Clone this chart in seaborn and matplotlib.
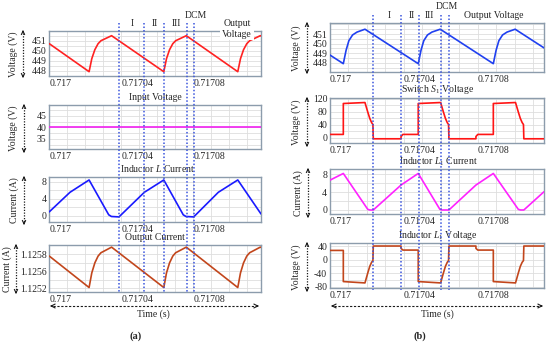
import numpy as np
import pandas as pd
import matplotlib
matplotlib.use("Agg")
import matplotlib.pyplot as plt
import seaborn as sns
from matplotlib.lines import Line2D
from matplotlib.patches import FancyArrowPatch
from matplotlib.ticker import MultipleLocator
import matplotlib.transforms as mtransforms

# ---------------- data (time in microseconds after 0.717 s) ----------------
T0 = 0.717
x_ticks = [0.717, 0.71704, 0.71708]
x_labels = ["0.717", "0.71704", "0.71708"]

# (a) boost converter
ta_vout = [0, 22.1, 23.6, 25.3, 27.1, 28.7, 34.6, 63.6, 65.1, 66.8, 68.6, 70.2, 76.1,
           104.7, 106.2, 107.9, 109.7, 111.3, 117.2, 117.6]
va_vout = [450.7, 447.9, 449.2, 450.1, 450.7, 451.0, 451.5, 447.9, 449.2, 450.1, 450.7, 451.0, 451.5,
           447.9, 449.2, 450.1, 450.7, 451.0, 451.5, 451.48]
ta_vin = [0, 117.6]
va_vin = [40, 40]
ta_il = [0, 11.5, 22.1, 33.0, 34.5, 38.7, 52.8, 63.6, 74.4, 75.9, 80.2, 93.9, 104.7, 117.6]
va_il = [0.9, 5.5, 8.4, 0.2, -0.2, -0.3, 5.5, 8.4, 0.2, -0.2, -0.3, 5.5, 8.4, 0.4]
ta_iout = [0, 22.1, 23.6, 25.3, 27.1, 28.7, 34.6, 63.6, 65.1, 66.8, 68.6, 70.2, 76.1,
           104.7, 106.2, 107.9, 109.7, 111.3, 117.2, 117.6]
va_iout = [1.125776, 1.12541, 1.12558, 1.125697, 1.125776, 1.125815, 1.12588,
           1.12541, 1.12558, 1.125697, 1.125776, 1.125815, 1.12588,
           1.12541, 1.12558, 1.125697, 1.125776, 1.125815, 1.12588, 1.125877]
a_iout_ticks = [1.1254, 1.1256, 1.1258]
a_iout_labels = ["1.1252", "1.1256", "1.1258"]
a_marks = [38.7, 52.8, 63.6, 76.3, 80.2]

# (b) proposed converter
tb_vout = [0, 7.2, 8.7, 10.2, 12.2, 14.6, 18.9, 47.7, 49.2, 50.7, 52.7, 55.1, 59.6,
           88.3, 89.8, 91.3, 93.3, 95.7, 100.1, 115.7]
vb_vout = [448.8, 447.9, 449.3, 450.3, 450.9, 451.2, 451.5, 447.9, 449.3, 450.3, 450.9, 451.2, 451.5,
           447.9, 449.3, 450.3, 450.9, 451.2, 451.5, 449.55]
tb_vs = [0, 7.2, 7.2, 18.9, 20.4, 21.5, 22.5, 23.2, 23.4, 38.4, 38.4, 39.4,
         47.7, 47.7, 59.8, 61.3, 62.4, 63.4, 64.1, 64.3, 78.9, 78.9, 79.9,
         88.3, 88.3, 100.3, 101.8, 102.9, 103.9, 104.6, 104.8, 115.7]
vb_vs = [10.5, 10.5, 106, 109, 80, 60, 47, 41, -3, -3, 4, 10.5,
         10.5, 106, 109, 80, 60, 47, 41, -3, -3, 4, 10.5,
         10.5, 106, 109, 80, 60, 47, 41, -3, -3]
tb_il1 = [0, 7.2, 20.4, 21.6, 23.4, 38.4, 47.7, 59.4, 60.6, 64.3, 78.9, 88.3, 101.8, 103.0, 104.8, 115.7]
vb_il1 = [6.7, 8.2, 0.15, 0.0, 0.0, 5.6, 8.2, 0.15, 0.0, 0.0, 5.6, 8.2, 0.15, 0.0, 0.0, 4.1]
tb_vl1 = [0, 7.2, 7.2, 18.9, 20.4, 21.5, 22.5, 23.2, 23.4, 38.4, 38.4, 39.4,
          47.7, 47.7, 59.8, 61.3, 62.4, 63.4, 64.1, 64.3, 78.9, 78.9, 79.9,
          88.3, 88.3, 100.3, 101.8, 102.9, 103.9, 104.6, 104.8, 115.7]
vb_vl1 = [27, 27, -65, -69, -40, -20, -8, -3, 40, 40, 33, 28,
          28, -65, -69, -40, -20, -8, -3, 40, 40, 33, 28,
          28, -65, -69, -40, -20, -8, -3, 40, 40]
b_marks = [23.2, 38.4, 48.1, 60.0, 64.3]

# ---------------- style ----------------
sns.set_theme(style="white")
plt.rcParams["font.family"] = ["Liberation Serif", "DejaVu Serif"]
plt.rcParams["mathtext.fontset"] = "custom"
plt.rcParams["mathtext.rm"] = "Liberation Serif"
plt.rcParams["mathtext.it"] = "Liberation Serif:italic"
FS = 7
SPINE = "#8c9cac"
GRID = "#dedede"
MARK = "#3a55dd"

W, H = 550, 343
fig = plt.figure(figsize=(5.5, 3.43), dpi=100)
fig.patch.set_facecolor("white")


def fx(p):
    return p / W


def fy(p):
    return 1 - p / H


def us(t):
    return [T0 + v * 1e-6 for v in t]


def make_ax(x0, y0, x1, y1, t, v, color, ylim, yticks, ylabels, yminor, xmax):
    ax = fig.add_axes([fx(x0), fy(y1), (x1 - x0) / W, (y1 - y0) / H])
    df = pd.DataFrame({"t": us(t), "v": v})
    sns.lineplot(data=df, x="t", y="v", ax=ax, color=color, lw=1.2,
                 estimator=None, sort=False, zorder=3)
    ax.set_xlim(T0, T0 + xmax * 1e-6)
    ax.set_ylim(*ylim)
    ax.set_xticks(x_ticks, x_labels)
    ax.set_yticks(yticks, ylabels)
    ax.xaxis.set_minor_locator(MultipleLocator(1e-5))
    ax.yaxis.set_minor_locator(MultipleLocator(yminor))
    ax.grid(True, which="both", color=GRID, lw=0.6, zorder=0)
    ax.tick_params(which="both", length=0, labelsize=FS, pad=2)
    plt.setp(ax.get_xticklabels(), ha="left")
    ax.set_xlabel("")
    ax.set_ylabel("")
    for s in ax.spines.values():
        s.set_color(SPINE)
        s.set_linewidth(1.0)
    return ax


def ylab(text, xl, xa, y0, y1):
    fig.text(fx(xl), fy((y0 + y1) / 2), text, rotation=90, ha="center", va="center", fontsize=FS)
    fig.add_artist(Line2D([fx(xa)] * 2, [fy(y0 + 2), fy(y1 - 2)], transform=fig.transFigure,
                          color="k", ls=(0, (1, 1.2)), lw=0.9))
    for a, b in [((y0 + 4), y0 - 1), ((y1 - 4), y1 + 1)]:
        fig.add_artist(FancyArrowPatch((fx(xa), fy(a)), (fx(xa), fy(b)), transform=fig.transFigure,
                                       arrowstyle="->", mutation_scale=6, lw=0.8, color="k"))


def tarrow(xa, xb, y, xt, xlbl):
    fig.add_artist(Line2D([fx(xa + 2), fx(xb - 2)], [fy(y)] * 2, transform=fig.transFigure,
                          color="k", ls=(0, (2, 1.5)), lw=0.8))
    for a, b in [(xa + 4, xa - 1), (xb - 4, xb + 1)]:
        fig.add_artist(FancyArrowPatch((fx(a), fy(y)), (fx(b), fy(y)), transform=fig.transFigure,
                                       arrowstyle="->", mutation_scale=7, lw=0.8, color="k"))
    fig.text(fx(xt), fy(314), "Time (s)", ha="center", va="center", fontsize=FS)
    fig.text(fx(xt - 17), fy(336), xlbl, ha="center", va="center", fontsize=FS + 0.5, fontweight="bold")


def marks(ax, times, ytop, ybot):
    tr = mtransforms.blended_transform_factory(ax.transData, fig.transFigure)
    for t in times:
        fig.add_artist(Line2D([T0 + t * 1e-6] * 2, [fy(ytop), fy(ybot)], transform=tr,
                              color=MARK, ls=(0, (1, 1.3)), lw=1.1, zorder=6))


# ---------------- panel (a) ----------------
AX0, AX1 = 49.3, 261
a1 = make_ax(AX0, 31, AX1, 76, ta_vout, va_vout, "#ff2222", (447.47, 451.97),
             [448, 449, 450, 451], ["448", "449", "450", "451"], 0.5, 117.6)
a2 = make_ax(AX0, 105, AX1, 149, ta_vin, va_vin, "#f020f0", (30.7, 49.6),
             [35, 40, 45], ["35", "40", "45"], 2.5, 117.6)
a3 = make_ax(AX0, 177, AX1, 222, ta_il, va_il, "#1a1aff", (-1.5, 9.1),
             [0, 4, 8], ["0", "4", "8"], 2, 117.6)
a4 = make_ax(AX0, 245, AX1, 292, ta_iout, va_iout, "#c2461c", (1.125358, 1.125905),
             a_iout_ticks, a_iout_labels, 0.0001, 117.6)

ylab("Voltage (V)", 13, 23, 31, 77)
ylab("Voltage (V)", 13, 24, 105, 152)
ylab("Current (A)", 14, 24, 177, 224)
ylab("Current (A)", 7.5, 16, 245, 293)

fig.text(fx(155), fy(97.5), "Input Voltage", ha="center", va="center", fontsize=FS)
fig.text(fx(158), fy(168), "Inductor $\\mathit{L}$ Current", ha="center", va="center", fontsize=FS)
fig.text(fx(155), fy(238), "Output Current", ha="center", va="center", fontsize=FS)
for txt, x, y in [("I", 132, 24), ("II", 155, 24), ("III", 176, 24), ("DCM", 196, 16)]:
    fig.text(fx(x), fy(y), txt, ha="center", va="center", fontsize=FS)
fig.text(fx(237), fy(29), "Output\nVoltage", ha="center", va="center", fontsize=FS,
         linespacing=1.15, zorder=7, bbox=dict(facecolor="white", edgecolor="none", pad=1.2))
marks(a1, a_marks, 22.5, 293)
tarrow(51, 258, 306, 153, "(a)")

# ---------------- panel (b) ----------------
BX0, BX1 = 330, 544
b1 = make_ax(BX0, 23, BX1, 72, tb_vout, vb_vout, "#2040f0", (447.03, 452.15),
             [448, 449, 450, 451], ["448", "449", "450", "451"], 0.5, 115.7)
b2 = make_ax(BX0, 98, BX1, 143, tb_vs, vb_vs, "#ff1515", (-16, 123),
             [0, 40, 80, 120], ["0", "40", "80", "120"], 20, 115.7)
b3 = make_ax(BX0, 169, BX1, 214, tb_il1, vb_il1, "#ff22ff", (-0.9, 9.2),
             [0, 4, 8], ["0", "4", "8"], 2, 115.7)
b4 = make_ax(BX0, 243, BX1, 288, tb_vl1, vb_vl1, "#c2461c", (-84, 48.9),
             [-80, -40, 0, 40], ["-80", "-40", "0", "40"], 20, 115.7)

ylab("Voltage (V)", 296, 307, 23, 73)
ylab("Voltage (V)", 296, 307, 98, 146)
ylab("Current (A)", 298, 308, 169, 217)
ylab("Voltage (V)", 296, 307, 243, 291)

fig.text(fx(438), fy(89), "Switch $S_1$ Voltage", ha="center", va="center", fontsize=FS)
fig.text(fx(438), fy(162), "Inductor $L_1$ Current", ha="center", va="center", fontsize=FS)
fig.text(fx(438), fy(236), "Inductor $L_1$ Voltage", ha="center", va="center", fontsize=FS)
for txt, x, y in [("I", 389, 16), ("II", 411.7, 16), ("III", 429.3, 16), ("DCM", 446.7, 6.7),
                  ("Output Voltage", 493.3, 16)]:
    fig.text(fx(x), fy(y), txt, ha="center", va="center", fontsize=FS)
marks(b1, b_marks, 15, 290)
tarrow(332, 542, 306, 437, "(b)")

fig.savefig("out.png", dpi=100, facecolor="white")
